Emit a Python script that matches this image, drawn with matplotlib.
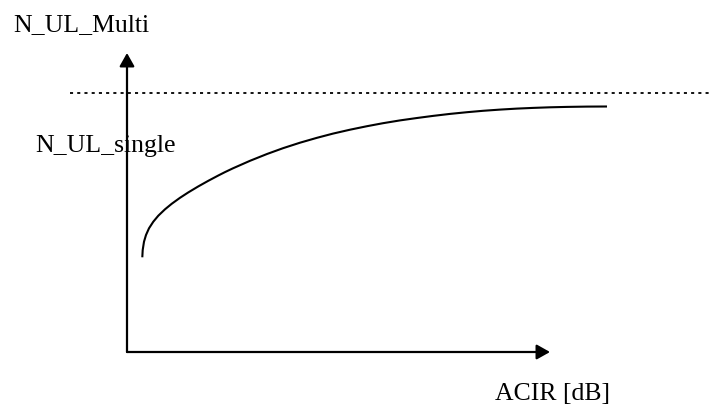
import matplotlib.pyplot as plt

# courbe schematique N_UL en fonction de l'ACIR (unites arbitraires)
acir = [15.3, 15.7, 17, 19, 22, 26.3, 31.3, 38, 44.7, 53, 61.3, 71.3, 81.3, 91.3, 98,
        106, 123, 140, 156, 173, 190, 206, 223, 240, 256, 273, 290, 306, 323, 340,
        356, 373, 390, 406, 423, 440, 460, 480]
n_ul = [94.7, 102, 110.3, 117, 123.7, 130.3, 136.3, 142.7, 148.2, 154.2, 159.6, 165.6, 171.2, 176.5, 179.9,
        183.7, 191.2, 198.0, 203.8, 209.3, 214.2, 218.4, 222.3, 225.8, 228.8, 231.6, 234.0, 236.1, 238.1, 239.8,
        241.2, 242.4, 243.4, 244.1, 244.7, 245.1, 245.4, 245.5]
n_ul_single = 259
axis_labels = ["ACIR [dB]", "N_UL_Multi", "N_UL_single"]

fig = plt.figure(figsize=(7.12, 4.07), dpi=100)
ax = fig.add_axes([0, 0, 1, 1])
ax.set_xlim(-127, 585)
ax.set_ylim(-55, 352)
ax.axis("off")

police = dict(family=["Liberation Serif", "DejaVu Serif"], fontsize=18.5, color="black")

# axes avec fleches
fleche = dict(arrowstyle="-|>,head_length=0.8,head_width=0.45", color="black", lw=1.6,
              shrinkA=0, shrinkB=0)
ax.annotate("", xy=(423, 0), xytext=(0, 0), arrowprops=fleche)
ax.annotate("", xy=(0, 299), xytext=(0, 0), arrowprops=fleche)

# niveau single
ax.axhline(n_ul_single, xmin=(70 / 712), xmax=1, color="black", lw=1.3,
           linestyle=(0, (1.7, 2.3)))

ax.plot(acir, n_ul, color="black", lw=1.5, solid_capstyle="butt", solid_joinstyle="round")

ax.text(368, -48, axis_labels[0], va="baseline", ha="left", **police)
ax.text(-114, 321, axis_labels[1], va="baseline", ha="left", **police)
ax.text(-92, 200, axis_labels[2], va="baseline", ha="left", **police)

fig.savefig("out.png", dpi=100)
